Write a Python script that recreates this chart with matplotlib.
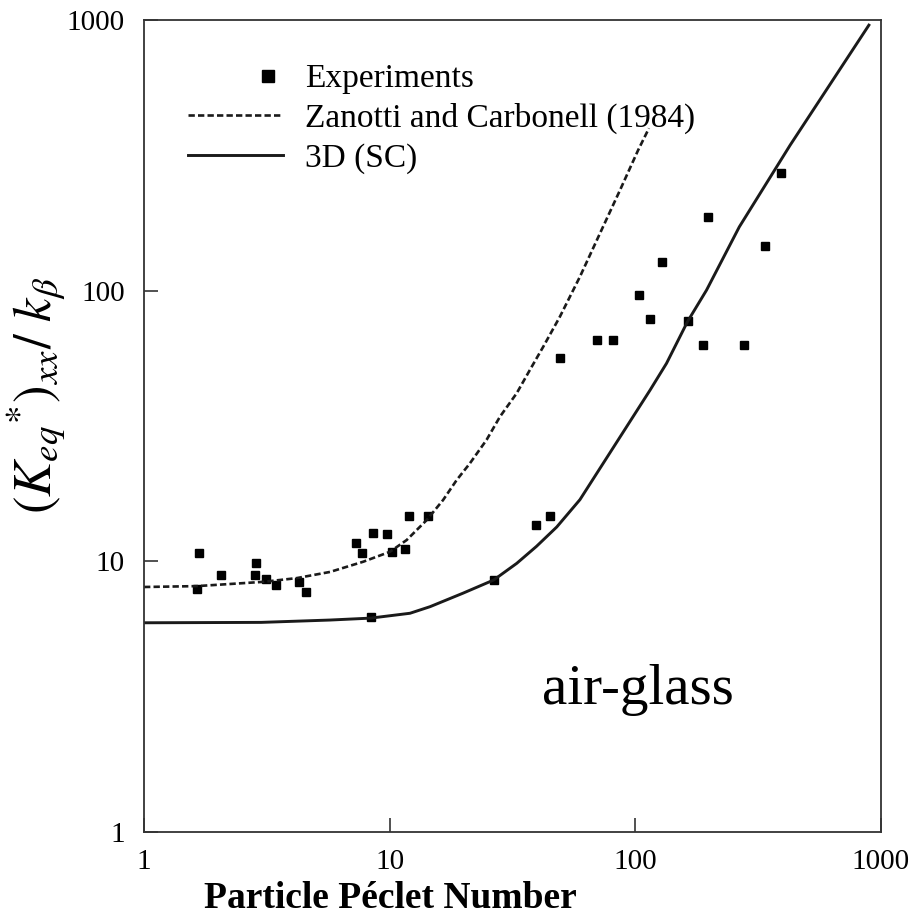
import matplotlib
matplotlib.use('Agg')
import matplotlib.pyplot as plt
from matplotlib.legend_handler import HandlerLine2DCompound
import numpy as np

plt.rcParams['font.family'] = 'Liberation Serif'
plt.rcParams['mathtext.fontset'] = 'stix'

# experimental points (Peclet number, dispersion ratio)
pe_exp = [1.67, 1.64, 2.05, 2.85, 2.82, 3.13, 3.44, 4.27, 4.55, 7.27, 7.69, 8.53, 9.72,
          10.2, 11.5, 11.95, 14.3, 8.37, 49.2, 39.4, 44.8, 26.5, 69.6, 80.8, 103.1,
          114.3, 128.3, 163.3, 187.9, 196.9, 276, 336, 390]
k_exp = [10.7, 7.9, 8.88, 9.9, 8.88, 8.62, 8.17, 8.39, 7.69, 11.65, 10.7, 12.69, 12.58,
         10.85, 11.1, 14.7, 14.7, 6.21, 56.2, 13.6, 14.7, 8.53, 65.5, 65.5, 96.1,
         78.3, 127.2, 77.0, 62.8, 186.6, 62.8, 145.8, 271]

# Zanotti and Carbonell (1984)
pe_zc = [1.0, 1.64, 3.06, 4.18, 5.72, 7.81, 10.03, 11.73, 14.15, 16.5, 18.74, 21.2,
         24.8, 28.1, 32.9, 37.2, 42.2, 49.3, 59.5, 71.8, 86.6, 102.6, 113.6]
k_zc = [8.04, 8.1, 8.4, 8.67, 9.14, 9.97, 10.85, 11.99, 14.21, 16.85, 19.97, 23.0,
        28.1, 34.2, 41.8, 50.9, 62.1, 80.1, 112.6, 162.8, 235, 330, 398]

# 3D (SC)
pe_3d = [1.0, 3.0, 5.72, 8.37, 12.1, 14.6, 19.9, 26.5, 32.9, 39.6, 47.9, 59.5,
         114.8, 134, 163.3, 195, 265, 427, 893]
k_3d = [5.93, 5.95, 6.07, 6.17, 6.43, 6.8, 7.63, 8.53, 9.83, 11.36, 13.4, 16.9,
        42.9, 53.9, 77, 100.5, 172, 345, 957]


class RightMarker(HandlerLine2DCompound):
    # legend marker sits near the right end of the handle, as in the original
    def get_xdata(self, legend, xdescent, ydescent, width, height, fontsize):
        xd = np.array([-xdescent, -xdescent + width])
        return xd, np.array([-xdescent + 0.84 * width])


fig = plt.figure(figsize=(9.15, 9.21), dpi=100)
ax = fig.add_axes([0.1574, 0.0966, 0.8054, 0.8817])

exp_line, = ax.plot(pe_exp, k_exp, 's', color='black', markersize=6, label='Experiments')
ax.plot(pe_zc, k_zc, '--', color='#1a1a1a', lw=1.9, dashes=(2.4, 1.2),
        label='Zanotti and Carbonell (1984)')
ax.plot(pe_3d, k_3d, '-', color='#1a1a1a', lw=2.1, label='3D (SC)')

ax.set_xscale('log')
ax.set_yscale('log')
ax.set_xlim(1, 1000)
ax.set_ylim(1, 1000)
ax.set_xticks([1, 10, 100, 1000])
ax.set_xticklabels(['1', '10', '100', '1000'])
ax.set_yticks([1, 10, 100, 1000])
ax.set_yticklabels(['1', '10', '100', '1000'])
ax.minorticks_off()
ax.tick_params(direction='in', length=10, width=1.2, labelsize=21, colors='#333333',
               labelcolor='black')
ax.tick_params(axis='x', pad=12)
ax.tick_params(axis='y', pad=14)
for s in ax.spines.values():
    s.set_color('#333333')
    s.set_linewidth(1.3)

ax.set_xlabel('Particle Péclet Number', fontsize=27, fontweight='bold')
ax.xaxis.set_label_coords(0.334, -0.06)
ax.set_ylabel(r'$(K_{eq}{}^{*})_{xx}/\ k_{\beta}$', fontsize=38)
ax.yaxis.set_label_coords(-0.1045, 0.538)

ax.text(0.67, 0.175, 'air-glass', transform=ax.transAxes, fontsize=41,
        ha='center', va='center')

ax.legend(loc='upper left', bbox_to_anchor=(0.06, 0.946), frameon=False, fontsize=24,
          handlelength=2.85, handletextpad=0.64, labelspacing=0.26, borderaxespad=0,
          borderpad=0, markerscale=1.4, handler_map={exp_line: RightMarker(numpoints=1)})

fig.savefig('out.png', dpi=100)
